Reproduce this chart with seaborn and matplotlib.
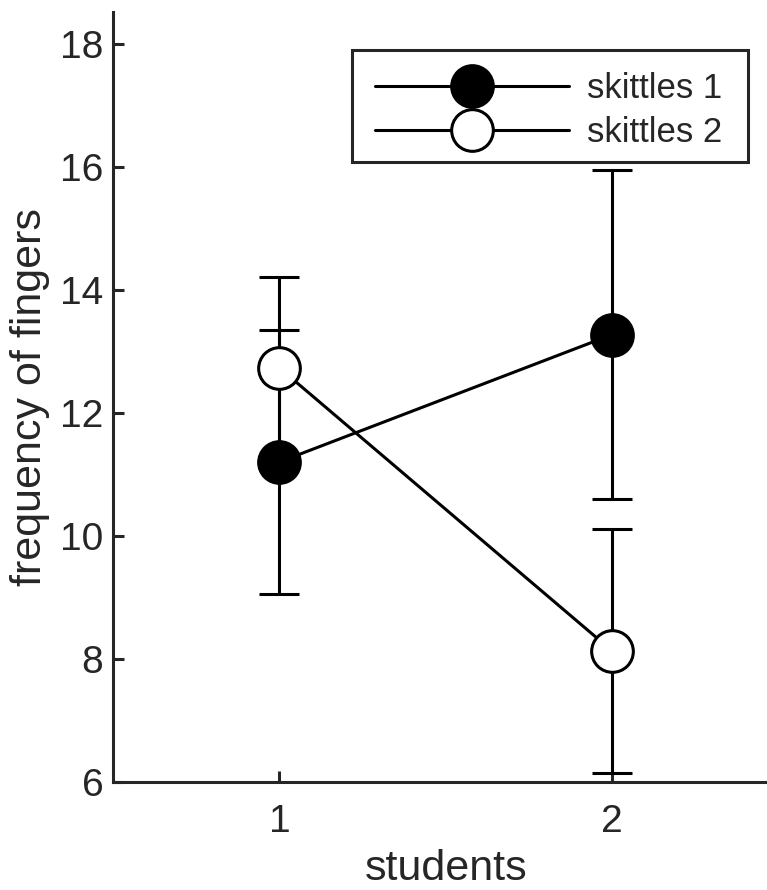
import matplotlib
matplotlib.use("Agg")
import matplotlib.pyplot as plt
from matplotlib.patches import Rectangle
import seaborn as sns
import pandas as pd

# Group means and error half-widths per student
students = [1, 2]
series_names = ["skittles 1", "skittles 2"]
skittles1_mean = [11.20, 13.27]
skittles1_err = [2.14, 2.67]
skittles2_mean = [12.73, 8.13]
skittles2_err = [1.48, 1.98]
yticks = [6, 8, 10, 12, 14, 16, 18]
xticks = [1, 2]

sns.set_style("ticks")
plt.rcParams["font.family"] = ["Liberation Sans", "DejaVu Sans"]
ink = "#262626"

W, H, DPI = 767, 890, 100
fig = plt.figure(figsize=(W / DPI, H / DPI), dpi=DPI)

# Axes extends past the right edge, xlim 0.5..2.5
left_px, bottom_px, right_px, top_px = 113, 782, 778.5, 12
ax = fig.add_axes([left_px / W, 1 - bottom_px / H,
                   (right_px - left_px) / W, (bottom_px - top_px) / H])

df = pd.DataFrame({
    "student": students * 2,
    "value": skittles1_mean + skittles2_mean,
    "err": skittles1_err + skittles2_err,
    "series": [series_names[0]] * 2 + [series_names[1]] * 2,
})

lw_pt = 2.2
faces = {"skittles 1": "black", "skittles 2": "white"}

for name, sub in df.groupby("series", sort=False):
    ax.errorbar(sub["student"], sub["value"], yerr=sub["err"], fmt="none",
                ecolor="black", elinewidth=lw_pt, capsize=14.4,
                capthick=lw_pt, zorder=2)

for name, sub in df.groupby("series", sort=False):
    sns.lineplot(data=sub, x="student", y="value", ax=ax, color="black",
                 linewidth=lw_pt, marker="o", markersize=30,
                 markerfacecolor=faces[name], markeredgecolor="black",
                 markeredgewidth=lw_pt, label=name, zorder=3)

ax.set_xlim(0.5, 2.5)
ax.set_ylim(6, 6 + (bottom_px - top_px) / 61.54)
ax.set_xticks(xticks)
ax.set_yticks(yticks)
ax.tick_params(direction="in", length=8, width=2.2, colors=ink,
               labelsize=28)
ax.tick_params(axis="y", pad=7)
ax.tick_params(axis="x", pad=16)
for s in ["left", "bottom"]:
    ax.spines[s].set_linewidth(2.2)
    ax.spines[s].set_color(ink)
for s in ["top", "right"]:
    ax.spines[s].set_visible(False)

ax.set_xlabel("students", fontsize=31, color=ink, labelpad=6)
ax.set_ylabel("frequency of fingers", fontsize=31, color=ink, labelpad=7)

# Legend box drawn as its own patch so its padding can be set freely
box = Rectangle((352 / W, 1 - 162 / H), 396 / W, 112 / H,
                transform=fig.transFigure, facecolor="white",
                edgecolor=ink, linewidth=2.2, clip_on=False, zorder=4)
ax.add_patch(box)

leg = ax.legend(loc="upper left", bbox_to_anchor=(375 / W, 1 - 72 / H),
                bbox_transform=fig.transFigure, borderaxespad=0,
                fontsize=25, handlelength=5.6, handletextpad=0.5,
                labelspacing=0.32, borderpad=0, frameon=False)
leg.set_zorder(5)

fig.savefig("out.png", dpi=DPI)
